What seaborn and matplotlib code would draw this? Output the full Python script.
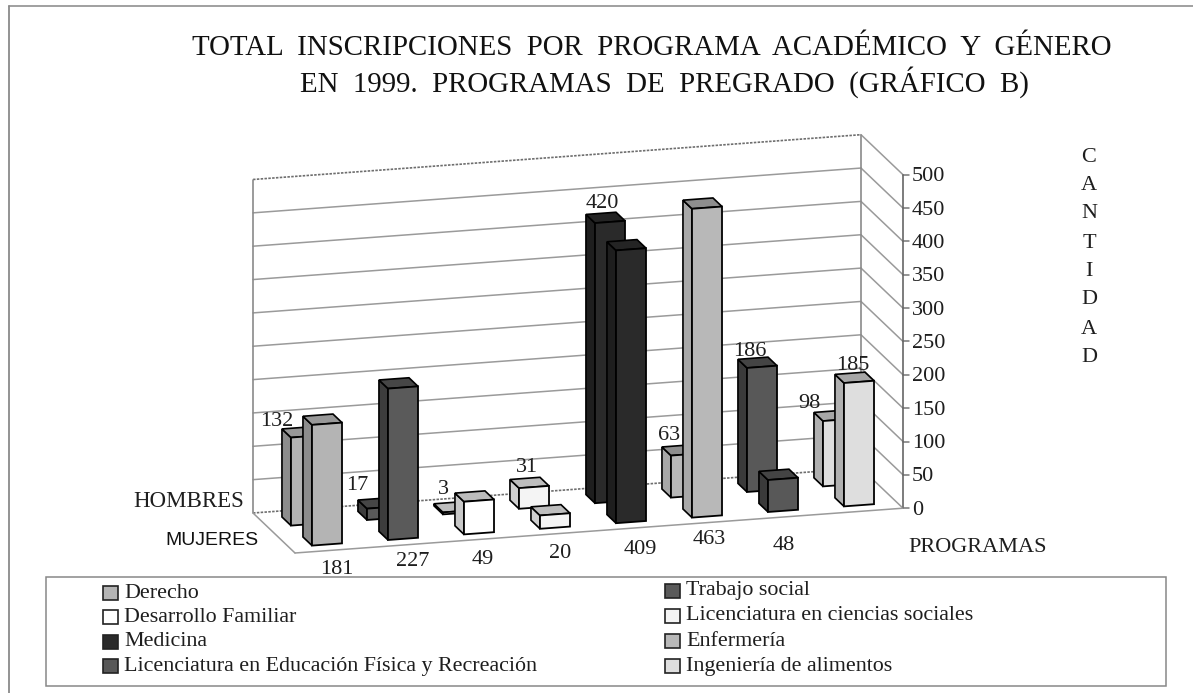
#!/usr/bin/env python3
"""Inscripciones 1999 por programa y genero, barras en falso 3D (grafico B)."""

import matplotlib
matplotlib.use("Agg")
import matplotlib.pyplot as plt
from matplotlib.patches import Polygon, Rectangle
from matplotlib.transforms import Affine2D
import pandas as pd
import seaborn as sns

programas = ["Derecho", "Trabajo social", "Desarrollo Familiar",
             "Licenciatura en ciencias sociales", "Medicina", "Enfermería",
             "Licenciatura en Educación Física y Recreación",
             "Ingeniería de alimentos"]
hombres = [132, 17, 3, 31, 420, 63, 186, 98]
mujeres = [181, 227, 49, 20, 409, 463, 48, 185]
ticks = [0, 50, 100, 150, 200, 250, 300, 350, 400, 450, 500]
colores = ["#b4b4b4", "#5a5a5a", "#ffffff", "#f4f4f4",
           "#2a2a2a", "#b8b8b8", "#585858", "#dedede"]
lados = ["#8c8c8c", "#3c3c3c", "#c8c8c8", "#cfcfcf",
         "#1e1e1e", "#a8a8a8", "#3a3a3a", "#b0b0b0"]
techos = ["#989898", "#464646", "#bdbdbd", "#bdbdbd",
          "#242424", "#8e8e8e", "#444444", "#a6a6a6"]

# geometria del piso, en pixeles de la imagen
X0, Y0 = 295, 553       # esquina frontal izquierda
DX_CAT, DY_CAT = 76, -5.6
DX_FILA, DY_FILA = -21, -20
PX_VALOR = -0.667
ANCHO = 0.395
FONDO = 0.43            # profundidad de cada barra en filas
INICIO = 0.286          # separacion entre el frente del piso y la barra
TINTA = "#1e1e1e"


def proy(c, fila, z):
    return (X0 + DX_CAT * c + DX_FILA * fila,
            Y0 + DY_CAT * c + DY_FILA * fila + PX_VALOR * z)


sns.set_theme(style="white")
plt.rcParams["font.family"] = ["Liberation Serif", "DejaVu Serif"]
fig = plt.figure(figsize=(11.93, 6.93), dpi=100)
ax = fig.add_axes([0, 0, 1, 1])

df = pd.DataFrame({"programa": programas * 2,
                   "cantidad": hombres + mujeres,
                   "genero": ["H"] * 8 + ["M"] * 8})
paleta = dict(zip(programas, colores))

# fila de atras primero, despues la de adelante
for fila, genero, orden in [(1, "H", 3), (0, "M", 4)]:
    n = len(ax.patches)
    sns.barplot(data=df[df.genero == genero], x="programa", y="cantidad",
                hue="programa", order=programas, hue_order=programas,
                palette=paleta, saturation=1, width=ANCHO, errorbar=None,
                legend=False, edgecolor="black", linewidth=1.3, ax=ax)
    d = fila + INICIO
    # (categoria, valor) -> pixel sobre el plano frontal de la fila
    plano = Affine2D.from_values(DX_CAT, DY_CAT, 0, PX_VALOR,
                                 X0 + DX_CAT * 0.5 + DX_FILA * d,
                                 Y0 + DY_CAT * 0.5 + DY_FILA * d)
    barras = [p for p in ax.patches[n:] if p.get_height() > 0]
    for i, bar in enumerate(barras):
        bar.set_zorder(orden)
        bar.set_transform(plano + ax.transData)
        c0 = bar.get_x() + 0.5
        c1 = c0 + bar.get_width()
        z = bar.get_height()
        lado = [proy(c0, d, 0), proy(c0, d + FONDO, 0),
                proy(c0, d + FONDO, z), proy(c0, d, z)]
        techo = [proy(c0, d, z), proy(c0, d + FONDO, z),
                 proy(c1, d + FONDO, z), proy(c1, d, z)]
        for pts, col in [(lado, lados[i]), (techo, techos[i])]:
            ax.add_patch(Polygon(pts, closed=True, facecolor=col,
                                 edgecolor="black", linewidth=1.2,
                                 zorder=orden - 0.5))

ax.set_xlim(0, 1193)
ax.set_ylim(693, 0)
ax.set_xlabel("")
ax.set_ylabel("")
ax.set_xticks([])
ax.set_yticks([])
sns.despine(ax=ax, left=True, bottom=True)

# paredes y rejilla
GRIS = "#9a9a9a"
for t in ticks:
    a = proy(0, 2, t)
    b = proy(8, 2, t)
    c = proy(8, 0, t)
    borde = t in (0, 500)
    ax.plot([a[0], b[0]], [a[1], b[1]], lw=1.2 if borde else 1.1,
            color="#6e6e6e" if borde else GRIS,
            ls=(0, (1.5, 0.8)) if borde else "-", zorder=1)
    ax.plot([b[0], c[0]], [b[1], c[1]], lw=1.1, color=GRIS, zorder=1)
    ax.plot([c[0], c[0] + 6], [c[1], c[1]], lw=1.1, color="#777777", zorder=1)
    ax.text(c[0] + 9, c[1] + 2, str(t), fontsize=16, va="center", ha="left",
            color=TINTA)

for c, fila, col in [(0, 2, "#8a8a8a"), (8, 2, "#8a8a8a"), (8, 0, "#666666")]:
    a = proy(c, fila, 0)
    b = proy(c, fila, 500)
    ax.plot([a[0], b[0]], [a[1], b[1]], lw=1.2, color=col, zorder=1)
a, b = proy(0, 2, 0), proy(0, 0, 0)
ax.plot([a[0], b[0]], [a[1], b[1]], lw=1.1, color=GRIS, zorder=1)
a = proy(8, 0, 0)
ax.plot([b[0], a[0]], [b[1], a[1]], lw=1.1, color=GRIS, zorder=1)

# etiquetas de valores
etiquetas_h = [(277, 419), (357, 484), (443, 488), (527, 465),
               (602, 202), (669, 434), (750, 350), (809, 402)]
etiquetas_m = [(337, 567), (413, 560), (483, 558), (560, 551),
               (640, 547), (709, 538), (784, 543), (853, 363)]
for v, (x, y) in zip(hombres + mujeres, etiquetas_h + etiquetas_m):
    ax.text(x, y + 2, str(v), fontsize=16, ha="center", va="center",
            color=TINTA, zorder=6)

# titulo y rotulos
ax.text(192, 55, "TOTAL  INSCRIPCIONES  POR  PROGRAMA  ACADÉMICO  Y  GÉNERO",
        fontsize=20.8, ha="left", va="baseline", color="#111111")
ax.text(300, 92, "EN  1999.  PROGRAMAS  DE  PREGRADO  (GRÁFICO  B)",
        fontsize=20.8, ha="left", va="baseline", color="#111111")
ax.text(133, 507, "HOMBRES", fontsize=16.5, va="baseline", color=TINTA)
ax.text(165, 545, "MUJERES", fontsize=14, va="baseline", color="#111111",
        family=["Liberation Sans"])
ax.text(908, 552, "PROGRAMAS", fontsize=16, va="baseline", color=TINTA)
cantidad_y = [156, 184, 213, 242, 270, 299, 329, 357]
for letra, y in zip("CANTIDAD", cantidad_y):
    ax.text(1089, y + 1, letra, fontsize=16, ha="center", va="center",
            color=TINTA)

# marco exterior (solo arriba e izquierda) y leyenda
ax.plot([9, 1193], [6, 6], lw=1.3, color="#999999")
ax.plot([9, 9], [6, 693], lw=1.3, color="#8a8a8a")
ax.add_patch(Rectangle((46, 577), 1120, 109, fill=False, edgecolor="#888888", lw=1.1))
columnas = [(103, 124, programas[0::2], [592, 616, 641, 665]),
            (665, 686, programas[1::2], [590, 615, 640, 665])]
for xc, xt, nombres, filas_y in columnas:
    for nombre, y in zip(nombres, filas_y):
        ax.add_patch(Rectangle((xc, y - 6), 15, 14, facecolor=paleta[nombre],
                               edgecolor="#222222", lw=1.2))
        ax.text(xt, y + 1, nombre, fontsize=15.8, va="center", color=TINTA)

fig.savefig("out.png", dpi=100)
